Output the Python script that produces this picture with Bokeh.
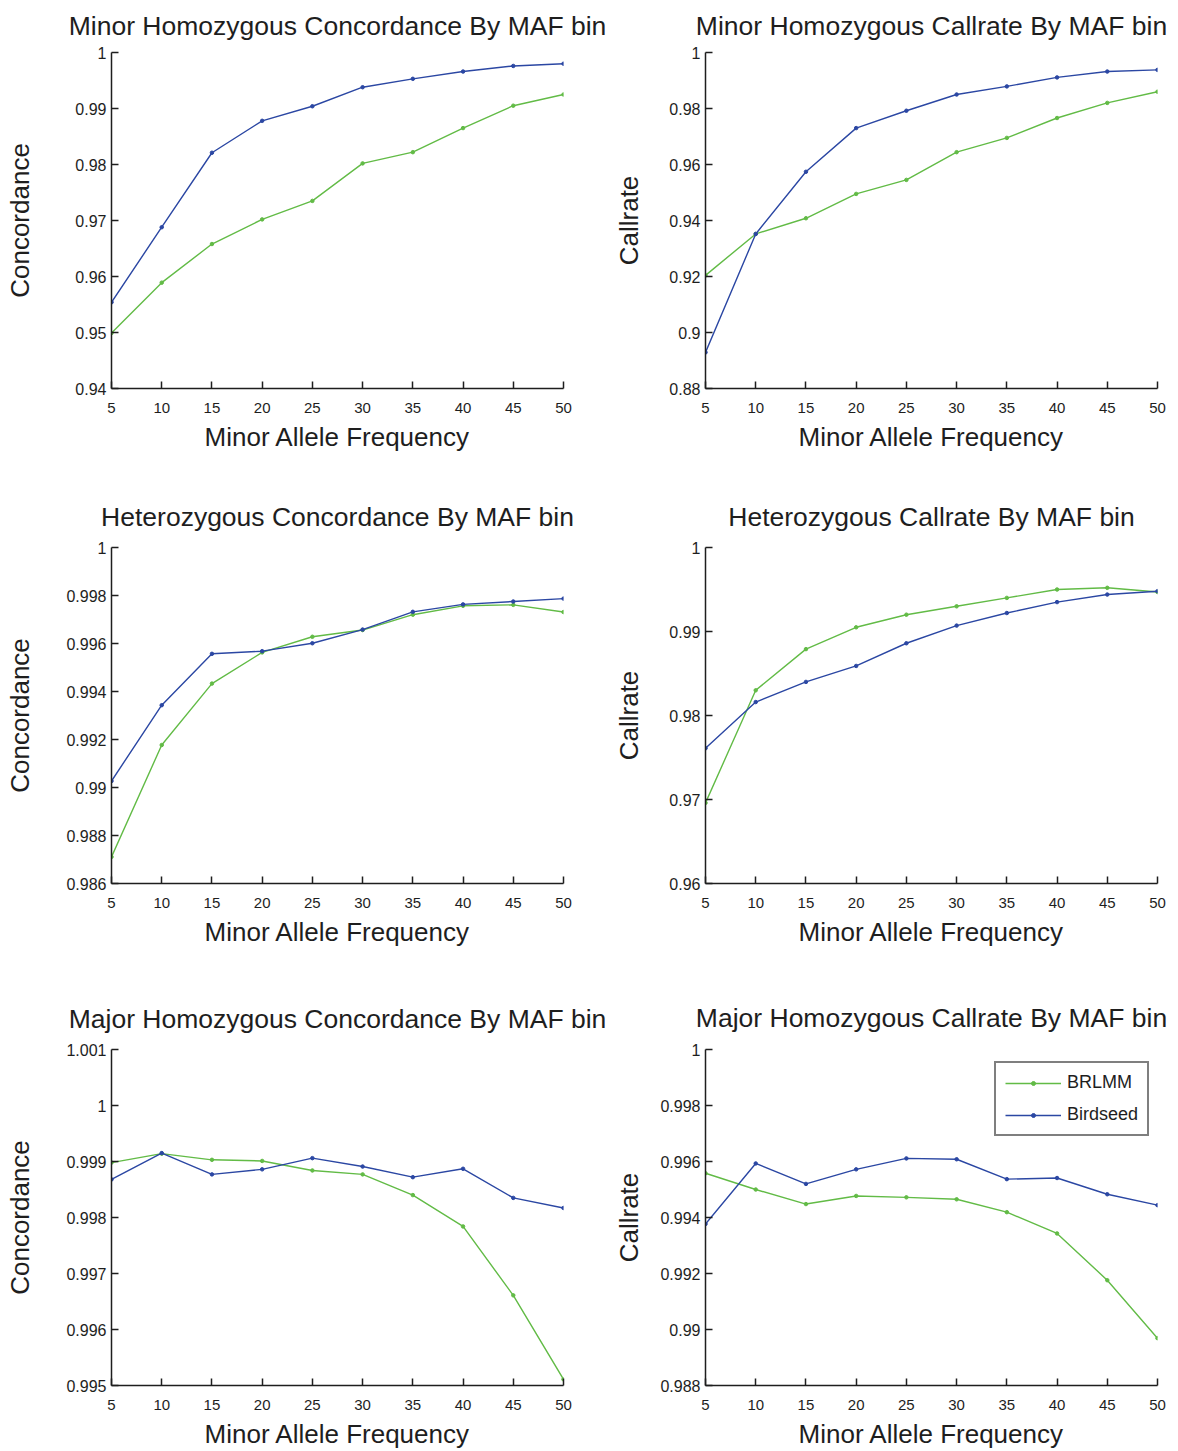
from bokeh.plotting import figure
from bokeh.layouts import column, row
from bokeh.models import (FixedTicker, CustomJSTickFormatter, Legend, LegendItem,
                          Range1d)
from bokeh.embed import file_html
from bokeh.resources import INLINE

# ---------------- data ----------------
maf = [5, 10, 15, 20, 25, 30, 35, 40, 45, 50]

minor_conc_brlmm = [0.9499, 0.9589, 0.9658, 0.9702, 0.9735, 0.9802, 0.9822, 0.9865, 0.9905, 0.9925]
minor_conc_birdseed = [0.9554, 0.9688, 0.9821, 0.9878, 0.9904, 0.9938, 0.9953, 0.9966, 0.9976, 0.9980]

minor_call_brlmm = [0.9204, 0.9352, 0.9408, 0.9495, 0.9545, 0.9644, 0.9695, 0.9766, 0.9820, 0.9860]
minor_call_birdseed = [0.8929, 0.9352, 0.9574, 0.9730, 0.9792, 0.9850, 0.9879, 0.9911, 0.9932, 0.9938]

het_conc_brlmm = [0.98711, 0.99177, 0.99433, 0.99563, 0.99628, 0.99656, 0.99720, 0.99757, 0.99761, 0.99731]
het_conc_birdseed = [0.99027, 0.99343, 0.99557, 0.99568, 0.99601, 0.99658, 0.99732, 0.99763, 0.99775, 0.99787]

het_call_brlmm = [0.9696, 0.9830, 0.9879, 0.9905, 0.9920, 0.9930, 0.9940, 0.9950, 0.9952, 0.9947]
het_call_birdseed = [0.9761, 0.9816, 0.9840, 0.9859, 0.9886, 0.9907, 0.9922, 0.9935, 0.9944, 0.9948]

major_conc_brlmm = [0.99898, 0.99914, 0.99903, 0.99901, 0.99884, 0.99877, 0.99840, 0.99784, 0.99661, 0.99511]
major_conc_birdseed = [0.99868, 0.99915, 0.99877, 0.99886, 0.99906, 0.99891, 0.99872, 0.99887, 0.99835, 0.99817]

major_call_brlmm = [0.99558, 0.99500, 0.99448, 0.99477, 0.99472, 0.99465, 0.99419, 0.99343, 0.99176, 0.98969]
major_call_birdseed = [0.99377, 0.99593, 0.99520, 0.99572, 0.99611, 0.99608, 0.99537, 0.99541, 0.99483, 0.99444]

yticks_minor_conc = [0.94, 0.95, 0.96, 0.97, 0.98, 0.99, 1.0]
yticks_minor_call = [0.88, 0.90, 0.92, 0.94, 0.96, 0.98, 1.0]
yticks_het_conc = [0.986, 0.988, 0.990, 0.992, 0.994, 0.996, 0.998, 1.0]
yticks_het_call = [0.96, 0.97, 0.98, 0.99, 1.0]
yticks_major_conc = [0.995, 0.996, 0.997, 0.998, 0.999, 1.0, 1.001]
yticks_major_call = [0.988, 0.990, 0.992, 0.994, 0.996, 0.998, 1.0]

series_names = ["BRLMM", "Birdseed"]

GREEN = "#62bb46"
BLUE = "#2b47a3"
TXT = "#1e1e1e"
FONT = "Liberation Sans"

fmt_code = "return String(parseFloat(tick.toFixed(6)));"


def make_panel(title, ylabel, yticks, brlmm, birdseed, width, height, borders,
               ylab_standoff, title_standoff, title_valign="bottom", legend=False):
    bl, br, bt, bb = borders
    p = figure(width=width, height=height, output_backend="svg", toolbar_location=None,
               x_range=Range1d(maf[0], maf[-1]), y_range=Range1d(yticks[0], yticks[-1]),
               min_border_left=bl, min_border_right=br, min_border_top=bt,
               min_border_bottom=bb)
    p.outline_line_color = None
    p.grid.visible = False
    p.background_fill_color = "white"
    p.border_fill_color = "white"

    p.title.text = title
    p.title.align = "center"
    p.title.vertical_align = title_valign
    p.title.text_font = FONT
    p.title.text_font_size = "26.5px"
    p.title.text_font_style = "normal"
    p.title.text_color = TXT
    p.title.standoff = title_standoff

    p.xaxis.ticker = FixedTicker(ticks=maf)
    p.yaxis.ticker = FixedTicker(ticks=yticks)
    p.yaxis.formatter = CustomJSTickFormatter(code=fmt_code)
    for ax in (p.xaxis, p.yaxis):
        ax.axis_line_color = "#1e1e1e"
        ax.axis_line_width = 1.5
        ax.major_tick_line_color = "#1e1e1e"
        ax.major_tick_line_width = 1.5
        ax.major_tick_in = 7
        ax.major_tick_out = 0
        ax.minor_tick_line_color = None
        ax.major_label_text_color = TXT
        ax.major_label_text_font = FONT
        ax.axis_label_text_font = FONT
        ax.axis_label_text_font_size = "26px"
        ax.axis_label_text_font_style = "normal"
        ax.axis_label_text_color = TXT
    p.xaxis.major_label_text_font_size = "15px"
    p.xaxis.major_label_standoff = 14
    p.xaxis.axis_label = "Minor Allele Frequency"
    p.xaxis.axis_label_standoff = 6
    p.yaxis.major_label_text_font_size = "16px"
    p.yaxis.major_label_standoff = 5
    p.yaxis.axis_label = ylabel
    p.yaxis.axis_label_standoff = ylab_standoff

    gl = p.line(maf, brlmm, line_color=GREEN, line_width=1.4)
    gs = p.scatter(maf, brlmm, marker="circle", size=3.5, fill_color=GREEN, line_color=GREEN)
    bl_ = p.line(maf, birdseed, line_color=BLUE, line_width=1.4)
    bs = p.scatter(maf, birdseed, marker="circle", size=3.5, fill_color=BLUE, line_color=BLUE)

    if legend:
        lg = Legend(items=[LegendItem(label=series_names[0], renderers=[gl, gs]),
                           LegendItem(label=series_names[1], renderers=[bl_, bs])],
                    location=(289, 249))
        lg.border_line_color = "black"
        lg.border_line_width = 2
        lg.background_fill_color = "white"
        lg.background_fill_alpha = 1
        lg.label_text_font = FONT
        lg.label_text_font_size = "18px"
        lg.label_text_color = TXT
        lg.glyph_width = 56
        lg.glyph_height = 10
        lg.label_height = 21
        lg.spacing = 11
        lg.padding = 9
        lg.margin = 0
        lg.label_standoff = 6
        p.add_layout(lg)
    return p


LW, RW = 610, 568
H1, H2, H3 = 470, 500, 481
LB = (111, 47)
RB = (95, 21)

p1 = make_panel("Minor Homozygous Concordance By MAF bin", "Concordance", yticks_minor_conc,
                minor_conc_brlmm, minor_conc_birdseed, LW, H1, LB + (52, 82), 37, 19, "top")
p2 = make_panel("Minor Homozygous Callrate By MAF bin", "Callrate", yticks_minor_call,
                minor_call_brlmm, minor_call_birdseed, RW, H1, RB + (52, 82), 22, 19, "top")
p3 = make_panel("Heterozygous Concordance By MAF bin", "Concordance", yticks_het_conc,
                het_conc_brlmm, het_conc_birdseed, LW, H2, LB + (77, 87), 28, 31)
p4 = make_panel("Heterozygous Callrate By MAF bin", "Callrate", yticks_het_call,
                het_call_brlmm, het_call_birdseed, RW, H2, RB + (77, 87), 22, 31)
p5 = make_panel("Major Homozygous Concordance By MAF bin", "Concordance", yticks_major_conc,
                major_conc_brlmm, major_conc_birdseed, LW, H3, LB + (79, 66), 28, 31)
p6 = make_panel("Major Homozygous Callrate By MAF bin", "Callrate", yticks_major_call,
                major_call_brlmm, major_call_birdseed, RW, H3, RB + (79, 66), 13, 33,
                legend=True)

layout = column(row(p1, p2), row(p3, p4), row(p5, p6))
open("out.html", "w").write(file_html(layout, INLINE))
